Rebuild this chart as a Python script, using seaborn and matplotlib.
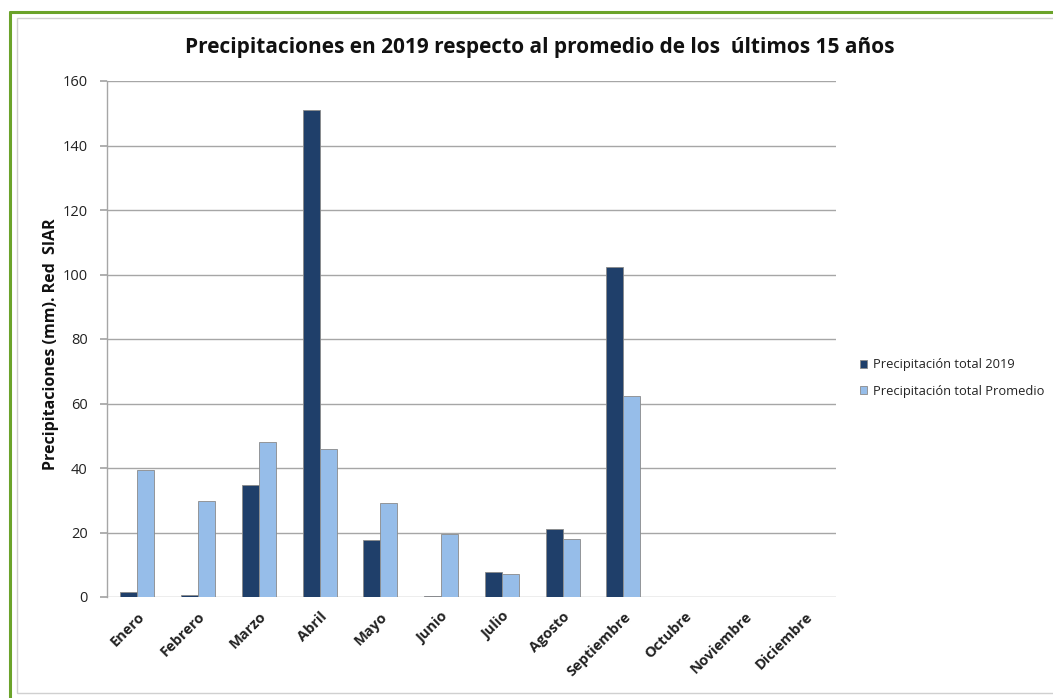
import numpy as np
import pandas as pd
import matplotlib
matplotlib.use("Agg")
import matplotlib.pyplot as plt
from matplotlib.lines import Line2D
from matplotlib.patches import Rectangle
import seaborn as sns

months = ["Enero", "Febrero", "Marzo", "Abril", "Mayo", "Junio", "Julio",
          "Agosto", "Septiembre", "Octubre", "Noviembre", "Diciembre"]
precip_2019 = [1.5, 0.5, 34.7, 151.0, 17.8, 0.3, 7.9, 21.2, 102.4, np.nan, np.nan, np.nan]
precip_prom = [39.4, 29.7, 48.0, 45.8, 29.3, 19.5, 7.0, 18.1, 62.3, np.nan, np.nan, np.nan]
series_names = ["Precipitación total 2019", "Precipitación total Promedio"]
yticks = [0, 20, 40, 60, 80, 100, 120, 140, 160]

df = pd.DataFrame({
    "mes": months * 2,
    "valor": precip_2019 + precip_prom,
    "serie": [series_names[0]] * 12 + [series_names[1]] * 12,
})

sns.set_theme(style="white")
plt.rcParams["font.family"] = ["Open Sans", "DejaVu Sans"]

fig = plt.figure(figsize=(10.53, 6.98), dpi=100)
ax = fig.add_axes([107 / 1053, 1 - 597 / 698, (836 - 107) / 1053, (597 - 81) / 698])

palette = {series_names[0]: "#1F3F6A", series_names[1]: "#96BDE9"}
sns.barplot(data=df, x="mes", y="valor", hue="serie", order=months,
            hue_order=series_names, palette=palette, width=0.56, gap=0,
            edgecolor="#8A8A8A", linewidth=0.6, saturation=1, ax=ax, legend=True)

ax.set_ylim(0, 160)
ax.set_xlim(-0.5, 11.5)
ax.set_yticks(yticks)
ax.set_yticklabels([str(v) for v in yticks], fontsize=10.5, color="#222222")
ax.yaxis.grid(True, color="#A6A6A6", linewidth=1)
ax.set_axisbelow(True)
ax.tick_params(axis="y", which="major", left=True, length=5, color="#A6A6A6", pad=9)
ax.tick_params(axis="x", length=0, pad=9)
for s in ["top", "right", "bottom"]:
    ax.spines[s].set_visible(False)
ax.spines["left"].set_color("#A6A6A6")
ax.spines["left"].set_linewidth(1)

ax.set_xticks(range(12))
ax.set_xticklabels(months, rotation=45, ha="right", rotation_mode="anchor",
                   fontsize=10.5, fontweight="bold", color="#222222")
ax.set_xlabel("")
ax.set_ylabel("Precipitaciones (mm). Red  SIAR", fontsize=11.5, fontweight="bold",
              color="#111111")
ax.yaxis.set_label_coords((59 - 107) / 729, 0.49)

fig.text(540 / 1053, 1 - 47 / 698, "Precipitaciones en 2019 respecto al promedio de los  últimos 15 años",
         ha="center", va="center", fontsize=15, fontweight="bold", color="#111111")

leg = ax.legend(loc="center left", bbox_to_anchor=(848 / 1053, 1 - 378 / 698),
                bbox_transform=fig.transFigure, frameon=False, fontsize=9.3,
                handlelength=0.6, handleheight=0.6, handletextpad=0.4, labelspacing=1.05)
for t in leg.get_texts():
    t.set_color("#222222")

# Outer green border (left and top) and inner light frame
fig.add_artist(Line2D([10 / 1053, 10 / 1053], [0, 1 - 12 / 698], transform=fig.transFigure,
                      color="#6BA32A", linewidth=2.2))
fig.add_artist(Line2D([10 / 1053, 1], [1 - 12 / 698, 1 - 12 / 698], transform=fig.transFigure,
                      color="#6BA32A", linewidth=2.2))
fig.add_artist(Rectangle((17 / 1053, 1 - 693 / 698), 1.1, (693 - 18) / 698,
                         transform=fig.transFigure, fill=False, edgecolor="#D0D0D0", linewidth=1))

fig.savefig("out.png", dpi=100)
